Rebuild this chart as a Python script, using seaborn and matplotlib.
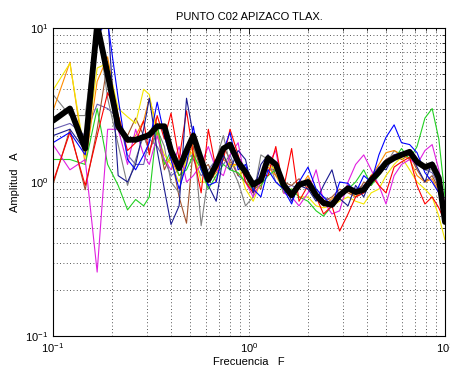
# Espectros H/V - PUNTO C02 APIZACO TLAX.
import numpy as np
import pandas as pd
import matplotlib
matplotlib.use("Agg")
import matplotlib.pyplot as plt
import seaborn as sns

# -------- datos --------
freq = [0.100, 0.122, 0.146, 0.168, 0.190, 0.215, 0.240, 0.264, 0.290, 0.310,
        0.340, 0.370, 0.400, 0.440, 0.480, 0.520, 0.570, 0.620, 0.680, 0.740,
        0.800, 0.880, 0.960, 1.05, 1.15, 1.25, 1.37, 1.50, 1.65, 1.80,
        2.00, 2.20, 2.40, 2.65, 2.90, 3.20, 3.50, 3.85, 4.20, 4.60,
        5.00, 5.50, 6.00, 6.60, 7.20, 7.90, 8.60, 9.30, 10.0]

amp_red = [1.0, 2.1, 0.95, 2.0, 3.8, 2.7, 1.6, 1.8, 2.5, 1.5, 2.7, 1.9, 2.8, 1.4, 2.9, 1.5, 0.85,
           2.2, 1.2, 1.4, 2.2, 1.5, 1.0, 0.85, 1.1, 1.1, 1.7, 0.9, 1.65, 0.75, 0.95, 0.8, 0.62,
           0.7, 0.48, 0.62, 0.8, 0.85, 1.1, 0.95, 0.85, 1.25, 1.35, 1.45, 0.95, 0.72, 0.8, 0.68, 0.55]
amp_blue = [1.8, 2.1, 1.5, 9.0, 11, 3.5, 1.4, 1.2, 1.5, 1.8, 3.3, 2.0, 1.4, 0.9, 1.3, 2.3, 1.2,
            0.95, 1.0, 1.6, 2.1, 1.2, 1.3, 0.9, 0.8, 1.2, 1.0, 0.9, 0.72, 1.0, 1.25, 0.9, 0.8,
            0.7, 1.0, 0.98, 0.85, 1.1, 1.0, 1.5, 1.95, 2.35, 1.8, 1.75, 1.55, 1.15, 1.0, 0.85, 0.6]
amp_navy = [2.0, 2.2, 1.6, 11, 12, 1.1, 1.0, 1.3, 2.2, 3.5, 1.6, 0.9, 0.53, 0.7, 3.5, 2.0, 1.5,
            0.95, 0.75, 1.5, 1.2, 1.6, 1.4, 0.85, 1.3, 1.5, 1.25, 1.0, 0.75, 0.95, 0.9, 0.75, 0.95,
            1.2, 0.78, 0.7, 0.95, 0.8, 1.05, 1.25, 1.2, 1.5, 1.55, 1.6, 1.25, 1.0, 1.35, 1.0, 0.65]
amp_green = [1.4, 1.4, 1.3, 3.0, 1.3, 0.95, 0.66, 0.77, 0.7, 0.8, 2.4, 1.3, 1.6, 1.1, 1.2, 1.5, 1.2,
             0.9, 1.1, 1.3, 1.2, 1.15, 1.0, 0.9, 0.95, 1.1, 1.2, 0.85, 0.9, 0.8, 0.75, 0.65, 0.6,
             0.7, 0.85, 0.9, 1.0, 1.2, 0.95, 1.1, 1.3, 1.4, 1.65, 1.4, 1.7, 2.6, 3.0, 1.9, 0.8]
amp_magenta = [1.75, 1.2, 1.4, 0.26, 2.2, 2.2, 1.3, 2.2, 1.5, 1.3, 2.0, 1.4, 1.2, 1.7, 1.0, 1.1, 1.3,
               1.7, 1.2, 1.1, 1.5, 1.8, 1.0, 0.8, 1.0, 1.3, 1.6, 0.85, 0.8, 0.7, 0.85, 1.2, 0.75,
               0.62, 0.65, 1.0, 1.3, 1.5, 1.2, 0.95, 0.72, 1.1, 1.3, 1.4, 1.3, 1.6, 1.75, 1.2, 0.7]
amp_yellow = [3.95, 5.9, 1.45, 5.5, 5.9, 3.0, 2.65, 2.4, 4.0, 3.7, 2.0, 1.5, 1.3, 1.0, 1.4, 1.6, 1.0,
              1.0, 1.2, 1.5, 1.25, 1.3, 0.9, 0.75, 1.0, 1.3, 1.2, 0.85, 0.9, 0.8, 0.8, 0.7, 0.68,
              0.7, 0.75, 0.8, 0.75, 0.72, 0.85, 0.9, 1.1, 1.3, 1.45, 1.2, 1.0, 0.9, 0.8, 0.6, 0.42]
amp_orange = [2.9, 6.0, 1.3, 4.5, 6.5, 2.7, 1.8, 2.0, 2.5, 3.5, 2.3, 1.3, 1.4, 1.1, 1.3, 1.8, 1.3,
              1.0, 1.15, 1.4, 1.3, 1.3, 1.1, 0.85, 0.95, 1.25, 1.1, 0.9, 0.85, 0.9, 1.1, 0.85, 0.7,
              0.78, 0.85, 0.88, 0.8, 0.9, 1.1, 1.3, 1.55, 1.6, 1.5, 1.4, 1.1, 1.0, 1.05, 0.85, 0.6]
amp_gray = [3.7, 2.7, 2.7, 11, 3.5, 1.75, 0.95, 1.4, 2.0, 1.6, 2.2, 1.7, 1.0, 0.85, 1.5, 2.1, 0.52,
            1.1, 1.4, 2.0, 1.3, 1.0, 0.7, 0.8, 1.5, 1.4, 1.0, 0.9, 0.85, 1.0, 0.95, 0.8, 0.7,
            0.75, 0.8, 0.9, 0.8, 0.85, 1.0, 1.2, 1.3, 1.6, 1.5, 1.6, 1.3, 1.2, 1.2, 1.0, 0.7]
amp_sienna = [0.96, 2.2, 0.89, 2.2, 6.0, 2.4, 2.0, 2.6, 2.0, 1.6, 2.1, 1.2, 1.5, 0.8, 0.54, 1.7, 1.2,
              1.3, 1.0, 1.7, 1.4, 1.1, 1.2, 1.0, 0.9, 1.5, 1.1, 1.0, 0.95, 1.05, 0.9, 0.85, 0.75,
              0.8, 0.9, 0.85, 0.8, 1.0, 0.95, 1.2, 1.4, 1.5, 1.4, 1.5, 1.2, 1.0, 1.1, 0.9, 0.6]
amp_slate = [2.2, 2.4, 2.0, 3.2, 3.0, 2.6, 1.5, 1.3, 1.3, 1.9, 1.7, 1.4, 1.1, 1.2, 1.7, 1.4, 1.1,
             1.2, 1.4, 1.3, 1.5, 1.1, 1.0, 1.0, 1.1, 1.2, 1.2, 0.9, 0.95, 0.9, 1.05, 0.9, 0.8,
             0.75, 0.85, 0.95, 0.9, 0.95, 1.1, 1.25, 1.4, 1.5, 1.55, 1.6, 1.4, 1.2, 1.15, 0.95, 0.6]
amp_mean = [2.5, 3.0, 1.65, 10.5, 5.0, 2.3, 1.88, 1.88, 1.96, 2.02, 2.3, 2.3, 1.6, 1.23, 1.6, 2.0, 1.4,
            1.03, 1.3, 1.65, 1.75, 1.35, 1.16, 0.96, 1.03, 1.43, 1.3, 0.96, 0.82, 0.96, 1.0, 0.82, 0.73,
            0.71, 0.82, 0.91, 0.86, 0.89, 1.03, 1.16, 1.33, 1.43, 1.5, 1.57, 1.35, 1.25, 1.3, 1.06, 0.55]

series = [
    (amp_slate, "#6a5fb0"),
    (amp_sienna, "#a0522d"),
    (amp_gray, "#808080"),
    (amp_orange, "#ff8c00"),
    (amp_yellow, "#f2e600"),
    (amp_green, "#22d022"),
    (amp_magenta, "#e020e0"),
    (amp_red, "#ff0000"),
    (amp_navy, "#1a1a90"),
    (amp_blue, "#0000ff"),
]

# -------- estilo --------
sns.set_style("white")
plt.rcParams["font.family"] = ["Liberation Sans", "DejaVu Sans"]
plt.rcParams["mathtext.fontset"] = "custom"
plt.rcParams["mathtext.rm"] = "Liberation Sans"
plt.rcParams["text.color"] = "black"
plt.rcParams["axes.labelcolor"] = "black"
plt.rcParams["xtick.color"] = "black"
plt.rcParams["ytick.color"] = "black"

fig = plt.figure(figsize=(4.5, 3.77), dpi=100)
ax = fig.add_axes([53 / 450, 41 / 377, 392 / 450, 308 / 377])

for amp, col in series:
    df = pd.DataFrame({"F": freq, "A": amp})
    sns.lineplot(data=df, x="F", y="A", color=col, lw=0.8, estimator=None, sort=False, ax=ax)

df_mean = pd.DataFrame({"F": freq, "A": amp_mean})
sns.lineplot(data=df_mean, x="F", y="A", color="black", lw=4.2, estimator=None, sort=False, ax=ax)

ax.set_xscale("log")
ax.set_yscale("log")
ax.set_xlim(0.1, 10)
ax.set_ylim(0.1, 10)

ax.grid(True, which="both", linestyle=(0, (1, 3)), color="#202020", lw=0.6)
ax.tick_params(which="both", direction="in", top=True, right=True, labelsize=8)
ax.tick_params(which="major", length=4, width=0.6)
ax.tick_params(which="minor", length=2, width=0.5)
for s in ax.spines.values():
    s.set_linewidth(0.8)
    s.set_color("black")

ax.set_title("PUNTO C02 APIZACO TLAX.", fontsize=8, pad=6)
ax.set_xlabel("Frecuencia   F", fontsize=8, labelpad=2)
ax.set_ylabel("Amplitud   A", fontsize=8, labelpad=4)

fig.savefig("out.png", dpi=100)
